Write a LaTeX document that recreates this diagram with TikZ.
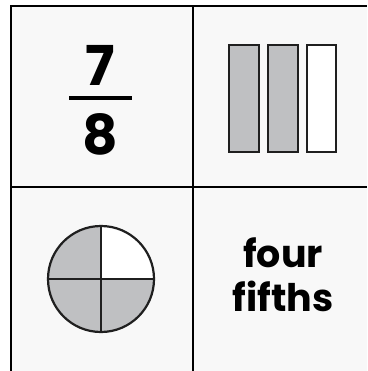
\documentclass[tikz,border=0pt]{standalone}
\usepackage{fontspec}
\setmainfont{Poppins}
\definecolor{cellbg}{HTML}{F8F8F8}
\definecolor{part}{HTML}{BFC0C2}
\tikzset{
  gridline/.style={line width=2.6pt,black},
  piece/.style={line width=2.2pt,draw=black!88},
  bigtxt/.style={font=\bfseries\fontsize{55}{55}\selectfont,inner sep=0pt},
  wordtxt/.style={font=\bfseries\fontsize{38}{44}\selectfont,align=center,inner sep=0pt}
}
\begin{document}
\begin{tikzpicture}[x=1pt,y=-1pt]

\useasboundingbox (0,0) rectangle (367,371);
\fill[cellbg] (11,6) rectangle (367,371);

\draw[gridline] (11,371) -- (11,6) -- (367,6);
\draw[gridline] (193,6) -- (193,371);
\draw[gridline] (11,187) -- (367,187);

% fraction
\node[bigtxt] (num) at (100,65) {7};
\node[bigtxt] (den) at (100,134) {8};
\draw[line width=3.5pt] (69,98) -- (132,98);

% bars
\draw[piece,fill=part] (229,45) rectangle (259,152);
\draw[piece,fill=part] (268,45) rectangle (298,152);
\draw[piece,fill=white] (307,45) rectangle (336,152);

% circle
\coordinate (c) at (101,279);
\fill[part] (c) circle (53);
\fill[white] (c) -- (154,279) arc (0:-90:53) -- cycle;
\draw[piece] (c) circle (53);
\draw[piece] (48,279) -- (154,279);
\draw[piece] (101,226) -- (101,332);

% words
\node[wordtxt] (word) at (283,275) {four\\fifths};

\end{tikzpicture}
\end{document}
